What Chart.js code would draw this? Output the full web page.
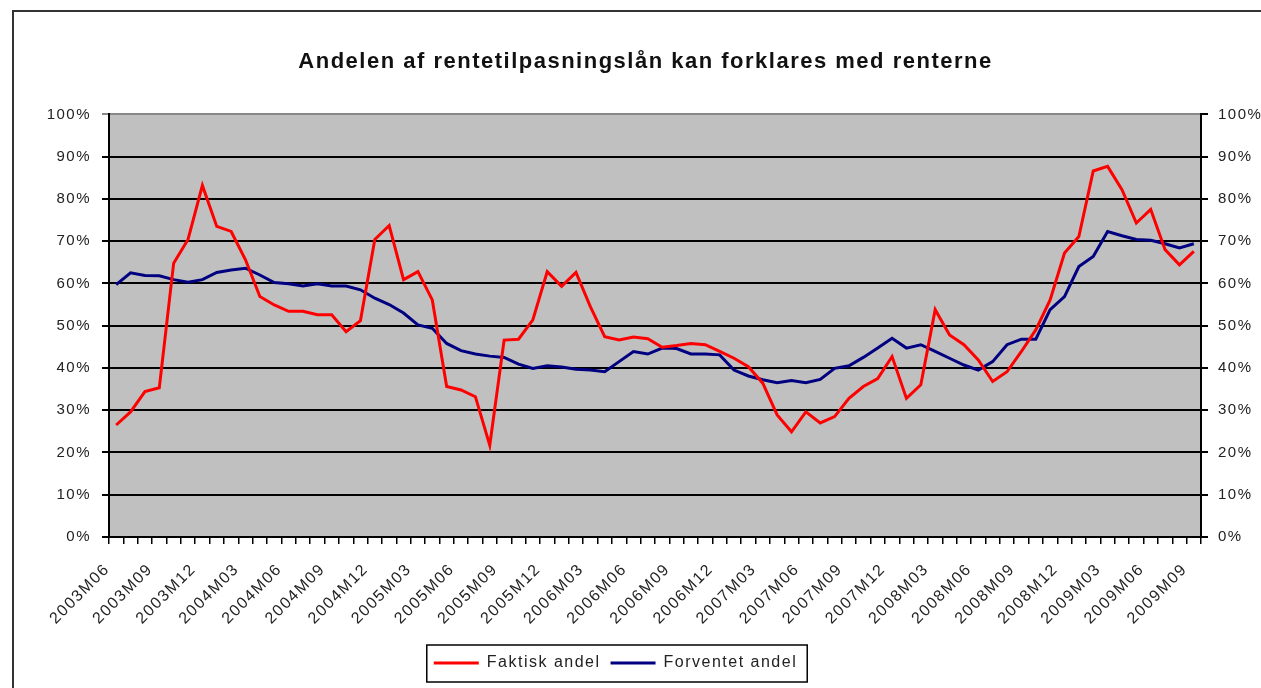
<!DOCTYPE html>
<html>
<head>
<meta charset="utf-8">
<script src="https://cdn.jsdelivr.net/npm/chart.js@4.4.0/dist/chart.umd.min.js"></script>
<style>
  html, body { margin: 0; padding: 0; background: #fff; }
  #wrap { width: 1261px; height: 688px; }
</style>
</head>
<body>
<div id="wrap"><canvas id="chart" width="1261" height="688"></canvas></div>
<script>
// Andel rentetilpasningslån: faktisk vs. forventet (pct.)

const months = [
    '2003M06', '2003M07', '2003M08', '2003M09', '2003M10', '2003M11', '2003M12',
    '2004M01', '2004M02', '2004M03', '2004M04', '2004M05', '2004M06', '2004M07', '2004M08', '2004M09', '2004M10', '2004M11', '2004M12',
    '2005M01', '2005M02', '2005M03', '2005M04', '2005M05', '2005M06', '2005M07', '2005M08', '2005M09', '2005M10', '2005M11', '2005M12',
    '2006M01', '2006M02', '2006M03', '2006M04', '2006M05', '2006M06', '2006M07', '2006M08', '2006M09', '2006M10', '2006M11', '2006M12',
    '2007M01', '2007M02', '2007M03', '2007M04', '2007M05', '2007M06', '2007M07', '2007M08', '2007M09', '2007M10', '2007M11', '2007M12',
    '2008M01', '2008M02', '2008M03', '2008M04', '2008M05', '2008M06', '2008M07', '2008M08', '2008M09', '2008M10', '2008M11', '2008M12',
    '2009M01', '2009M02', '2009M03', '2009M04', '2009M05', '2009M06', '2009M07', '2009M08', '2009M09'
];

// Faktisk andel (rød)
const faktisk = [
    26.5, 29.6, 34.4, 35.3, 64.8, 70.4, 83.2,
    73.5, 72.3, 65.6, 56.9, 54.9, 53.4, 53.4, 52.6, 52.6, 48.6, 51.2, 70.4,
    73.7, 60.9, 62.8, 56.1, 35.6, 34.8, 33.2, 21.7, 46.6, 46.8, 51.4, 62.8,
    59.3, 62.6, 54.5, 47.4, 46.6, 47.3, 46.9, 44.9, 45.3, 45.8, 45.5, 43.9,
    42.3, 40.3, 36.4, 28.9, 24.9, 29.6, 27.0, 28.5, 32.8, 35.6, 37.5, 42.7,
    32.8, 36.0, 53.8, 47.8, 45.5, 41.9, 36.8, 39.1, 43.9, 49.0, 56.1, 67.2,
    71.1, 86.6, 87.7, 82.2, 74.3, 77.5, 68.0, 64.4, 67.6
];

// Forventet andel (blå)
const forventet = [
    59.7, 62.5, 61.9, 61.8, 60.9, 60.3, 60.9,
    62.6, 63.2, 63.6, 62.0, 60.2, 59.9, 59.4, 59.9, 59.4, 59.4, 58.5, 56.5,
    55.0, 53.0, 50.2, 49.4, 45.8, 44.1, 43.3, 42.8, 42.5, 40.9, 39.9, 40.5,
    40.2, 39.7, 39.5, 39.1, 41.5, 43.9, 43.3, 44.7, 44.6, 43.3, 43.3, 43.1,
    39.5, 38.1, 37.2, 36.5, 37.0, 36.5, 37.3, 39.9, 40.5, 42.5, 44.7, 47.0,
    44.7, 45.5, 43.9, 42.3, 40.7, 39.5, 41.5, 45.5, 46.8, 46.8, 53.8, 56.9,
    64.0, 66.4, 72.3, 71.3, 70.4, 70.2, 69.4, 68.4, 69.4
];

const yTicks = [0, 10, 20, 30, 40, 50, 60, 70, 80, 90, 100];

const FONT = "'Liberation Sans', Arial, sans-serif";
const TEXT_COLOR = '#222';

// lidt luft mellem bogstaverne, som i originalen
const spacingPlugin = {
    id: 'letterSpacing',
    beforeUpdate(chart) { chart.ctx.letterSpacing = '1.5px'; },
    beforeDraw(chart) { chart.ctx.letterSpacing = '1.5px'; }
};

// hvid baggrund, ramme om hele figuren og grå plotflade
const framePlugin = {
    id: 'frame',
    beforeDraw(chart) {
        const ctx = chart.ctx;
        const a = chart.chartArea;
        ctx.save();
        ctx.fillStyle = '#fff';
        ctx.fillRect(0, 0, chart.width, chart.height);
        ctx.strokeStyle = '#333';
        ctx.lineWidth = 2;
        ctx.strokeRect(13, 11, chart.width + 40, chart.height + 40);
        ctx.fillStyle = '#c0c0c0';
        ctx.fillRect(a.left, a.top, a.right - a.left, a.bottom - a.top);
        ctx.restore();
    }
};

// legenden flyttes lidt til venstre og får en sort boks
const legendBoxPlugin = {
    id: 'legendBox',
    afterLayout(chart) {
        chart.legend.left -= 30;
        chart.legend.right -= 30;
    },
    afterDraw(chart) {
        const boxes = chart.legend.legendHitBoxes;
        if (!boxes || !boxes.length) return;
        const first = boxes[0];
        const last = boxes[boxes.length - 1];
        const ctx = chart.ctx;
        ctx.save();
        ctx.strokeStyle = '#000';
        ctx.lineWidth = 1.5;
        const x0 = first.left - 7;
        const x1 = last.left + last.width + 10;
        const y0 = first.top - 10;
        const y1 = first.top + first.height + 11;
        ctx.strokeRect(x0, y0, x1 - x0, y1 - y0);
        ctx.restore();
    }
};

const pct = v => v + '%';

new Chart(document.getElementById('chart'), {
    type: 'line',
    data: {
        labels: months,
        datasets: [
            {
                label: 'Faktisk andel',
                data: faktisk,
                borderColor: '#ff0000',
                backgroundColor: '#ff0000',
                borderWidth: 3,
                pointRadius: 0,
                pointStyle: 'line',
                tension: 0,
                yAxisID: 'y'
            },
            {
                label: 'Forventet andel',
                data: forventet,
                borderColor: '#000080',
                backgroundColor: '#000080',
                borderWidth: 3,
                pointRadius: 0,
                pointStyle: 'line',
                tension: 0,
                yAxisID: 'y'
            }
        ]
    },
    options: {
        responsive: false,
        animation: false,
        layout: { padding: { left: 30, right: 0, top: 0, bottom: 7 } },
        plugins: {
            title: {
                display: true,
                text: 'Andelen af rentetilpasningslån kan forklares med renterne',
                color: '#111',
                font: { family: FONT, size: 22, weight: 'bold' },
                padding: { top: 49, bottom: 39 }
            },
            legend: {
                position: 'bottom',
                labels: {
                    color: TEXT_COLOR,
                    font: { family: FONT, size: 16 },
                    usePointStyle: true,
                    pointStyle: 'line',
                    pointStyleWidth: 45,
                    padding: 10
                }
            },
            tooltip: { enabled: false }
        },
        scales: {
            x: {
                type: 'category',
                offset: true,
                grid: {
                    offset: true,
                    drawOnChartArea: false,
                    drawTicks: true,
                    tickLength: 7,
                    color: '#000',
                    lineWidth: 1.5
                },
                border: { display: true, color: '#000', width: 2 },
                ticks: {
                    autoSkip: false,
                    minRotation: 45,
                    maxRotation: 45,
                    padding: 16,
                    labelOffset: -9,
                    color: TEXT_COLOR,
                    font: { family: FONT, size: 16 },
                    callback: (v, i) => (i % 3 === 0 ? months[i] : '')
                },
                afterFit(scale) { scale.height = 108; }
            },
            y: {
                position: 'left',
                min: 0,
                max: 100,
                afterBuildTicks(scale) { scale.ticks = yTicks.map(v => ({ value: v })); },
                grid: {
                    color: ctx => (ctx.tick && ctx.tick.value === 100 ? '#888' : '#000'),
                    lineWidth: 2,
                    tickLength: 7
                },
                border: { display: true, color: '#000', width: 2 },
                ticks: {
                    padding: 11,
                    color: TEXT_COLOR,
                    font: { family: FONT, size: 15 },
                    callback: pct
                },
                afterFit(scale) { scale.width = 79; }
            },
            y2: {
                position: 'right',
                min: 0,
                max: 100,
                afterBuildTicks(scale) { scale.ticks = yTicks.map(v => ({ value: v })); },
                grid: {
                    drawOnChartArea: false,
                    color: '#000',
                    lineWidth: 2,
                    tickLength: 7
                },
                border: { display: true, color: '#000', width: 2 },
                ticks: {
                    padding: 10,
                    color: TEXT_COLOR,
                    font: { family: FONT, size: 15 },
                    callback: pct
                },
                afterFit(scale) { scale.width = 60; }
            }
        }
    },
    plugins: [spacingPlugin, framePlugin, legendBoxPlugin]
});
</script>
</body>
</html>
